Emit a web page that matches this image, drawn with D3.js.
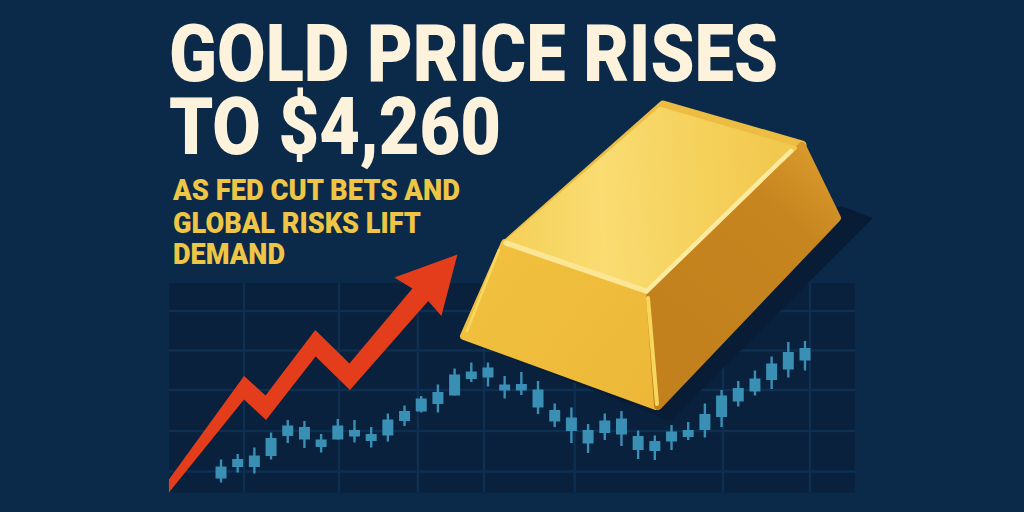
<!DOCTYPE html>
<html>
<head>
<meta charset="utf-8">
<script src="https://cdn.jsdelivr.net/npm/d3@7"></script>
<style>
  html, body { margin: 0; padding: 0; background: #0b2a4a; }
  svg { display: block; }
  text { font-family: Roboto, sans-serif; font-weight: 900; }
</style>
</head>
<body>
<svg id="chart" width="1024" height="512"></svg>
<script>
// candles (price in $)
const candleHigh = [4037, 4048, 4061, 4091, 4116, 4114, 4088, 4118, 4116, 4102, 4129, 4145, 4164, 4187, 4219, 4231, 4231, 4204, 4212, 4194, 4149, 4141, 4108, 4129, 4134, 4095, 4085, 4106, 4112, 4149, 4176, 4194, 4215, 4243, 4272, 4274]
const candleLow = [3991, 4011, 4009, 4037, 4070, 4060, 4051, 4077, 4071, 4061, 4073, 4104, 4131, 4131, 4165, 4192, 4183, 4159, 4166, 4128, 4102, 4070, 4050, 4076, 4064, 4038, 4036, 4056, 4076, 4081, 4102, 4143, 4165, 4178, 4201, 4215]
const bodyTop = [4023, 4038, 4045, 4080, 4105, 4102, 4077, 4105, 4096, 4088, 4117, 4134, 4159, 4172, 4207, 4213, 4221, 4187, 4188, 4177, 4136, 4121, 4096, 4115, 4119, 4084, 4074, 4093, 4096, 4128, 4165, 4180, 4199, 4229, 4252, 4260]
const bodyBottom = [3999, 4022, 4022, 4044, 4084, 4077, 4062, 4077, 4083, 4074, 4085, 4114, 4133, 4148, 4165, 4198, 4201, 4175, 4175, 4141, 4113, 4094, 4069, 4090, 4087, 4056, 4054, 4073, 4082, 4096, 4122, 4153, 4173, 4196, 4217, 4235]

// grid
const gridPrices = [4013, 4094, 4176, 4255, 4334]
const gridIndex = [1.38, 7.07, 11.8, 15.76, 21.2, 30.08, 35.3]

// red arrow outline, same units as the candles
const arrowIndex = [-3.12, 1.38, 2.67, 5.65, 7.7, 11.47, 10.39, 14.17, 13.21, 12.42, 7.73, 5.67, 2.7, 1.38, -3.12]
const arrowPrice = [3997, 4204, 4165, 4296, 4229, 4379, 4401, 4447, 4324, 4354, 4176, 4243, 4116, 4157, 3971]

const titleLines = ['GOLD PRICE RISES', 'TO $4,260']
const subtitleLines = ['AS FED CUT BETS AND', 'GLOBAL RISKS LIFT', 'DEMAND']

const svg = d3.select('#chart')
const panel = { left: 169, right: 855, top: 283, bottom: 492.5 }

const x = d3.scaleLinear().domain([0, 35]).range([221, 805])
const y = d3.scaleLinear().domain([3972, 4390]).range([492, 283])

const defs = svg.append('defs')
function gradient (id, x1, y1, x2, y2, stops) {
  const g = defs.append('linearGradient').attr('id', id)
    .attr('gradientUnits', 'userSpaceOnUse')
    .attr('x1', x1).attr('y1', y1).attr('x2', x2).attr('y2', y2)
  stops.forEach(s => g.append('stop').attr('offset', s[0]).attr('stop-color', s[1]))
}
gradient('topFace', 520, 190, 790, 180, [[0, '#f6d25c'], [0.3, '#f9dc72'], [0.7, '#f5d05a'], [1, '#f1c74c']])
gradient('frontFace', 480, 270, 650, 400, [[0, '#f1c03f'], [1, '#edb837']])
gradient('sideFace', 830, 170, 690, 330, [[0, '#d9982a'], [0.3, '#c6851f'], [1, '#c3811d']])

svg.append('rect').attr('width', 1024).attr('height', 512).attr('fill', '#0b2a4a')
svg.append('rect')
  .attr('x', panel.left).attr('y', panel.top)
  .attr('width', panel.right - panel.left).attr('height', panel.bottom - panel.top)
  .attr('fill', '#09213c')

svg.append('g').selectAll('line').data(gridPrices).join('line')
  .attr('x1', panel.left).attr('x2', panel.right)
  .attr('y1', d => y(d)).attr('y2', d => y(d))
  .attr('stroke', '#0d2f52').attr('stroke-width', 2.4)
svg.append('g').selectAll('line').data(gridIndex).join('line')
  .attr('x1', d => x(d)).attr('x2', d => x(d))
  .attr('y1', panel.top).attr('y2', panel.bottom)
  .attr('stroke', '#0d2f52').attr('stroke-width', 2.4)

// title + subtitle, stretched to the measured widths because there is no condensed face
const titleSpots = [[169, 80.5, 609], [169, 154, 332]]
svg.append('g').selectAll('text').data(titleLines).join('text')
  .attr('x', (d, i) => titleSpots[i][0]).attr('y', (d, i) => titleSpots[i][1])
  .attr('textLength', (d, i) => titleSpots[i][2]).attr('lengthAdjust', 'spacingAndGlyphs')
  .attr('font-size', 80).attr('fill', '#fdf3dc')
  .text(d => d)
const subSpots = [[173, 200, 287], [173, 232.5, 248], [173, 264, 112]]
svg.append('g').selectAll('text').data(subtitleLines).join('text')
  .attr('x', (d, i) => subSpots[i][0]).attr('y', (d, i) => subSpots[i][1])
  .attr('textLength', (d, i) => subSpots[i][2]).attr('lengthAdjust', 'spacingAndGlyphs')
  .attr('font-size', 30).attr('fill', '#eec545')
  .text(d => d)

// bar shadow goes under the candles
svg.append('path').attr('d', 'M460,337 L670,421 L873,218 L841,206 Z').attr('fill', '#081d35')

const candles = svg.append('g').selectAll('g').data(candleHigh).join('g')
candles.append('line')
  .attr('x1', (d, i) => x(i)).attr('x2', (d, i) => x(i))
  .attr('y1', d => y(d)).attr('y2', (d, i) => y(candleLow[i]))
  .attr('stroke', '#3a8fb5').attr('stroke-width', 2.4)
candles.append('rect')
  .attr('x', (d, i) => x(i) - 5.5).attr('width', 11)
  .attr('y', (d, i) => y(bodyTop[i]))
  .attr('height', (d, i) => y(bodyBottom[i]) - y(bodyTop[i]))
  .attr('fill', '#3a8fb5')

const arrowLine = d3.line().x(d => x(d[0])).y(d => y(d[1]))
svg.append('path')
  .attr('d', arrowLine(d3.zip(arrowIndex, arrowPrice)) + 'Z')
  .attr('fill', '#e33d1c')

// gold bar, illustration only
const bar = svg.append('g').attr('stroke-linejoin', 'round')
function face (d, fill, w) {
  bar.append('path').attr('d', d).attr('fill', fill).attr('stroke', fill).attr('stroke-width', w)
}
face('M505,245 L663,105 L802,145 L646,291 Z', '#ecbd42', 9)
face('M505,243 L646,291 L656,406 L464,336 Z', 'url(#frontFace)', 8)
face('M802,146 L837,218 L658,406 L650,296 Z', 'url(#sideFace)', 8)
face('M508,241 L660,109 L795,148 L646,287 Z', 'url(#topFace)', 4)
function ridge (d, color, w) {
  bar.append('path').attr('d', d).attr('fill', 'none').attr('stroke', color)
    .attr('stroke-width', w).attr('stroke-linecap', 'round')
}
ridge('M506,243 L646,291', '#fbe695', 5.5)
ridge('M647,291 L791,151', '#fcea9e', 4.5)
ridge('M499,250 L467,331', '#f8d860', 2.5)
ridge('M648,298 L657,404', '#f7d65c', 4)
</script>
</body>
</html>
